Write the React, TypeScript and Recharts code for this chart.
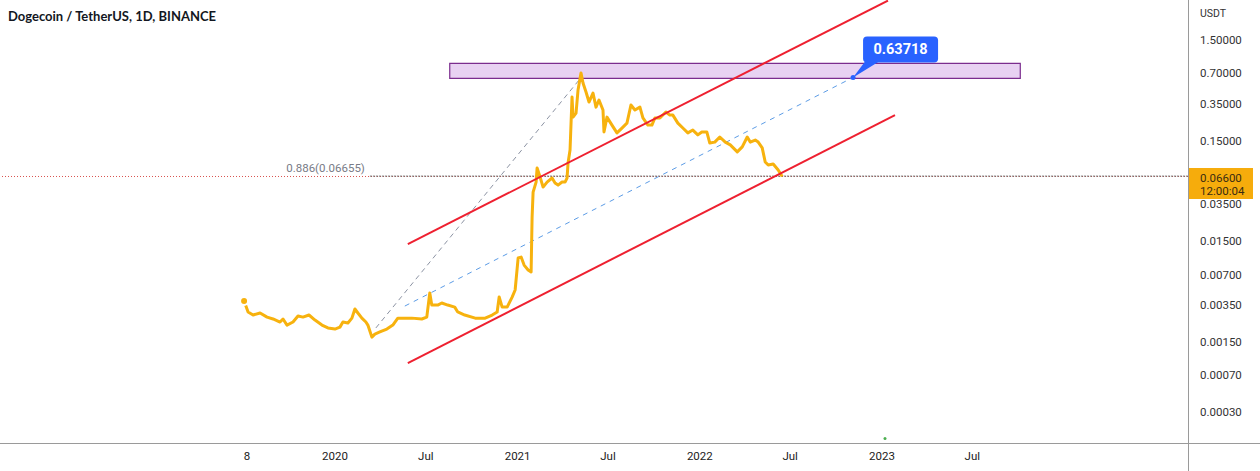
import React from 'react';
import {
  ComposedChart, Line, XAxis, YAxis,
  ReferenceLine, ReferenceArea, ReferenceDot,
} from 'recharts';

const TITLE = 'Dogecoin / TetherUS, 1D, BINANCE';
const UNIT = 'USDT';

// DOGE/USDT closes, sampled off the daily chart
const priceDates = [
  '2019-07-03', '2019-07-11', '2019-07-21', '2019-08-04', '2019-08-18', '2019-08-30',
  '2019-09-13', '2019-09-19', '2019-09-27', '2019-10-09', '2019-10-19', '2019-10-29',
  '2019-11-10', '2019-11-22', '2019-12-06', '2019-12-18', '2020-01-01', '2020-01-11',
  '2020-01-17', '2020-01-27', '2020-02-04', '2020-02-10', '2020-02-16', '2020-02-24',
  '2020-03-03', '2020-03-07', '2020-03-15', '2020-03-21', '2020-03-31', '2020-04-14',
  '2020-04-26', '2020-05-06', '2020-05-14', '2020-06-03', '2020-06-23', '2020-07-03',
  '2020-07-09', '2020-07-13', '2020-07-25', '2020-08-02', '2020-08-14', '2020-08-28',
  '2020-09-03', '2020-09-17', '2020-10-08', '2020-10-28', '2020-11-11', '2020-11-21',
  '2020-11-25', '2020-12-01', '2020-12-11', '2020-12-21', '2020-12-27', '2021-01-02',
  '2021-01-08', '2021-01-14', '2021-01-22', '2021-01-28', '2021-01-30', '2021-02-01',
  '2021-02-07', '2021-02-09', '2021-02-15', '2021-02-21', '2021-03-01', '2021-03-11',
  '2021-03-17', '2021-03-23', '2021-03-31', '2021-04-06', '2021-04-10', '2021-04-12',
  '2021-04-16', '2021-04-20', '2021-04-22', '2021-04-28', '2021-05-02', '2021-05-08',
  '2021-05-12', '2021-05-18', '2021-05-24', '2021-06-01', '2021-06-07', '2021-06-13',
  '2021-06-21', '2021-06-23', '2021-06-29', '2021-07-09', '2021-07-19', '2021-07-29',
  '2021-08-08', '2021-08-16', '2021-08-24', '2021-09-03', '2021-09-09', '2021-09-19',
  '2021-09-27', '2021-10-03', '2021-10-13', '2021-10-25', '2021-11-02', '2021-11-08',
  '2021-11-18', '2021-11-28', '2021-12-08', '2021-12-18', '2021-12-28', '2022-01-05',
  '2022-01-15', '2022-01-21', '2022-01-31', '2022-02-10', '2022-02-21', '2022-03-03',
  '2022-03-17', '2022-03-27', '2022-04-06', '2022-04-12', '2022-04-22', '2022-04-28',
  '2022-05-06', '2022-05-12', '2022-05-18', '2022-05-28', '2022-06-07', '2022-06-15',
];
const priceValues = [
  0.00382, 0.00297, 0.00277, 0.00290, 0.00264, 0.00253,
  0.00236, 0.00253, 0.00220, 0.00236, 0.00271, 0.00264,
  0.00277, 0.00247, 0.00220, 0.00206, 0.00201, 0.00210,
  0.00236, 0.00231, 0.00258, 0.00318, 0.00290, 0.00258,
  0.00236, 0.00220, 0.00167, 0.00179, 0.00188, 0.00201,
  0.00220, 0.00258, 0.00258, 0.00258, 0.00253, 0.00264,
  0.00458, 0.00348, 0.00348, 0.00365, 0.00348, 0.00332,
  0.00297, 0.00277, 0.00258, 0.00258, 0.00277, 0.00297,
  0.00418, 0.00332, 0.00332, 0.00418, 0.00491, 0.01021,
  0.01044, 0.00869, 0.00776, 0.00741, 0.0261, 0.0462,
  0.0581, 0.0801, 0.0652, 0.0518, 0.0581, 0.0637,
  0.0568, 0.0542, 0.0581, 0.0581, 0.0637, 0.0898,
  0.121, 0.407, 0.257, 0.282, 0.477, 0.705,
  0.561, 0.456, 0.363, 0.446, 0.323, 0.380,
  0.302, 0.183, 0.257, 0.214, 0.179, 0.200,
  0.224, 0.339, 0.302, 0.323, 0.252, 0.214,
  0.214, 0.252, 0.252, 0.289, 0.269, 0.269,
  0.224, 0.200, 0.179, 0.191, 0.171, 0.183,
  0.183, 0.142, 0.145, 0.163, 0.145, 0.136,
  0.116, 0.130, 0.163, 0.145, 0.152, 0.145,
  0.127, 0.0919, 0.0858, 0.0877, 0.0765, 0.066,
];

const xTickDates = ['2019-07-09', '2020-01-01', '2020-07-01', '2021-01-01', '2021-07-01', '2022-01-01', '2022-07-01', '2023-01-01', '2023-07-01'];
const xTickLabels = ['8', '2020', 'Jul', '2021', 'Jul', '2022', 'Jul', '2023', 'Jul'];
const yTicks = [1.5, 0.7, 0.35, 0.15, 0.035, 0.015, 0.007, 0.0035, 0.0015, 0.0007, 0.0003];

const lastPrice = 0.066;
const lastTime = '12:00:04';

// drawings: [date, price] anchors
const channelUpper: [string, number][] = [['2020-05-26', 0.01406], ['2023-01-13', 3.7]];
const channelLower: [string, number][] = [['2020-05-26', 0.000923], ['2023-01-27', 0.269]];
const fibRay: [string, number][] = [['2020-03-23', 0.00206], ['2021-05-04', 0.6]];
const targetRay: [string, number][] = [['2020-05-20', 0.0034], ['2022-11-04', 0.63718]];
const zoneDates = ['2020-08-18', '2023-10-05'];
const zonePrices = [0.624, 0.879];
const fibRatio = 0.886;
const fibPrice = 0.06655;
const fibStart = '2020-03-11';
const markerDate = '2023-01-07';

const DAY0 = Date.UTC(2020, 0, 1);
const day = (s: string) => Math.round((Date.parse(s) - DAY0) / 86400000);

const X_DOMAIN = [-671, 1709];
const Y_DOMAIN = [0.000148, 3.75];
const FONT = 'Roboto, sans-serif';

const data = priceDates.map((d, i) => ({ x: day(d), price: priceValues[i] }));
const xTicks = xTickDates.map(day);
const seg = (p: [string, number][]) => p.map(([d, v]) => ({ x: day(d), y: v }));

const XTick = ({ x, payload }: any) => {
  const i = xTicks.indexOf(payload.value);
  return (
    <text x={x} y={460} textAnchor="middle" fontSize={11.5} fontFamily={FONT} fill="#222">
      {xTickLabels[i]}
    </text>
  );
};

const YTick = ({ y, payload }: any) => {
  const v = payload.value;
  if (v === lastPrice) {
    return (
      <g>
        <rect x={1188} y={y - 8.5} width={65} height={31} fill="#f6ac0c" />
        <text x={1200} y={y + 5.5} fontSize={11.5} fontFamily={FONT} fill="#3a2c12">{v.toFixed(5)}</text>
        <text x={1200} y={y + 19} fontSize={11.5} fontFamily={FONT} fill="#3a2c12">{lastTime}</text>
      </g>
    );
  }
  return (
    <text x={1200} y={y + 4} fontSize={11.5} fontFamily={FONT} fill="#333">{v.toFixed(5)}</text>
  );
};

const Callout = ({ cx, cy }: any) => {
  const bx = cx + 10, by = cy - 41, bw = 75, bh = 26;
  return (
    <g>
      <path d={`M${cx},${cy} L${cx + 12},${cy - 16} L${cx + 26},${cy - 16} Z`} fill="#2962ff" />
      <rect x={bx} y={by} width={bw} height={bh} rx={4} fill="#2962ff" />
      <circle cx={cx} cy={cy} r={2.5} fill="#2962ff" />
      <text x={bx + bw / 2} y={by + 18} textAnchor="middle" fill="#fff" fontSize={14.5} fontWeight={700} fontFamily={FONT}>
        {targetRay[1][1].toFixed(5)}
      </text>
    </g>
  );
};

const FibLabel = ({ cx, cy }: any) => (
  <text x={cx - 5} y={cy - 4} textAnchor="end" fontSize={11.5} fontFamily={FONT} fill="#787b86">
    {`${fibRatio}(${fibPrice.toFixed(5)})`}
  </text>
);

export default function App() {
  return (
    <div style={{ position: 'absolute', left: 0, top: 0, width: 1260, height: 471, background: '#fff', fontFamily: FONT }}>
      <ComposedChart width={1260} height={471} data={data} margin={{ top: 0, right: 0, bottom: 0, left: 0 }}>
        <XAxis
          dataKey="x" type="number" domain={X_DOMAIN} allowDataOverflow
          ticks={xTicks} interval={0} tick={<XTick />}
          axisLine={false} tickLine={false} height={28}
        />
        <YAxis
          orientation="right" scale="log" domain={Y_DOMAIN} allowDataOverflow
          ticks={[lastPrice, ...yTicks]} interval={0} tick={<YTick />}
          axisLine={false} tickLine={false} width={72}
        />

        <ReferenceArea
          x1={day(zoneDates[0])} x2={day(zoneDates[1])} y1={zonePrices[0]} y2={zonePrices[1]}
          fill="#e8d2f2" fillOpacity={1} stroke="#7b2d8e" strokeWidth={1.2} ifOverflow="visible"
        />

        <ReferenceLine y={lastPrice} stroke="#d9534f" strokeDasharray="1 2" />
        <ReferenceLine
          segment={[{ x: day(fibStart), y: fibPrice }, { x: X_DOMAIN[1], y: fibPrice }]}
          stroke="#6b6b6b" strokeDasharray="2 1" ifOverflow="visible"
        />
        <ReferenceDot x={day(fibStart)} y={fibPrice} shape={<FibLabel />} ifOverflow="visible" />

        <ReferenceLine segment={seg(fibRay)} stroke="#8c93a3" strokeDasharray="5 4" ifOverflow="visible" />
        <ReferenceLine segment={seg(targetRay)} stroke="#5c9ce6" strokeDasharray="5 5" ifOverflow="visible" />

        <Line
          dataKey="price" type="linear" stroke="#f7b20e" strokeWidth={3}
          strokeLinejoin="round" dot={false} isAnimationActive={false}
        />

        <ReferenceLine segment={seg(channelUpper)} stroke="#ee2030" strokeWidth={2} ifOverflow="visible" />
        <ReferenceLine segment={seg(channelLower)} stroke="#ee2030" strokeWidth={2} ifOverflow="visible" />

        <ReferenceDot x={day(targetRay[1][0])} y={targetRay[1][1]} shape={<Callout />} ifOverflow="visible" />
        <ReferenceDot x={day(markerDate)} y={0.000164} r={1.5} fill="#4caf50" stroke="none" ifOverflow="visible" />
      </ComposedChart>

      {/* pane borders */}
      <div style={{ position: 'absolute', left: 1188, top: 0, width: 1, height: 471, background: '#9a9a9a' }} />
      <div style={{ position: 'absolute', left: 0, top: 443, width: 1260, height: 1, background: '#9a9a9a' }} />

      <div style={{ position: 'absolute', left: 8, top: 8, fontFamily: 'Lato, sans-serif', fontWeight: 700, fontSize: 13, lineHeight: '16px', color: '#131722' }}>
        {TITLE}
      </div>
      <div style={{ position: 'absolute', left: 1200, top: 7, fontSize: 10.5, lineHeight: '14px', color: '#333' }}>
        {UNIT}
      </div>
    </div>
  );
}
